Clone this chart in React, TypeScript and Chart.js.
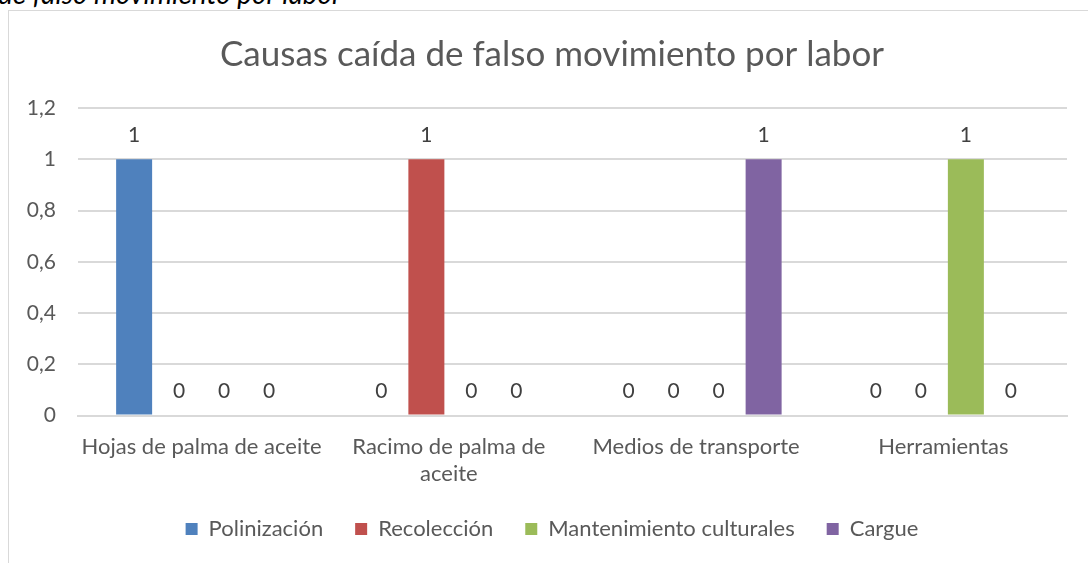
import React, { useEffect, useRef } from "react";
import { Chart, registerables } from "chart.js";

Chart.register(...registerables);

const chartTitle = "Causas caída de falso movimiento por labor";
const captionText = "de falso movimiento por labor";

const categories: (string | string[])[] = [
  "Hojas de palma de aceite",
  ["Racimo de palma de", "aceite"],
  "Medios de transporte",
  "Herramientas",
];

const seriesNames = ["Polinización", "Recolección", "Mantenimiento culturales", "Cargue"];
const polinizacion = [1, 0, 0, 0];
const recoleccion = [0, 1, 0, 0];
const mantenimiento = [0, 0, 0, 1];
const cargue = [0, 0, 1, 0];
const seriesColors = ["#4F81BD", "#C0504D", "#9BBB59", "#8064A2"];

const yTickLabels = ["0", "0,2", "0,4", "0,6", "0,8", "1", "1,2"];

const FONT = "Lato, 'Open Sans', sans-serif";
const FS = 21;
const FS_CAT = 22;
const LEGEND_PAD = 32;

const valueLabels = {
  id: "valueLabels",
  afterLayout(chart: any) {
    // let the y tick labels extend past the (narrow) axis box without clipping
    if (chart.scales.y) chart.scales.y.left = 0;
  },
  afterDatasetsDraw(chart: any) {
    const ctx = chart.ctx;
    ctx.save();
    ctx.font = `${FS}px ${FONT}`;
    ctx.fillStyle = "#404040";
    ctx.textAlign = "center";
    ctx.textBaseline = "middle";
    chart.data.datasets.forEach((ds: any, i: number) => {
      const meta = chart.getDatasetMeta(i);
      meta.data.forEach((el: any, j: number) => {
        const v = ds.data[j];
        ctx.fillText(String(v).replace(".", ","), el.x, el.y - 24);
      });
    });
    ctx.restore();
  },
};

export default function App() {
  const ref = useRef<HTMLCanvasElement | null>(null);

  useEffect(() => {
    document.body.style.overflow = "hidden";
    const seriesData = [polinizacion, recoleccion, mantenimiento, cargue];
    const chart = new Chart(ref.current as HTMLCanvasElement, {
      type: "bar",
      data: {
        labels: categories,
        datasets: seriesNames.map((name, i) => ({
          label: name,
          data: seriesData[i],
          backgroundColor: seriesColors[i],
          borderWidth: 0,
          categoryPercentage: 0.728,
          barPercentage: 0.8,
        })),
      },
      plugins: [valueLabels],
      options: {
        responsive: false,
        animation: false,
        devicePixelRatio: 1,
        layout: { padding: { left: 37, right: 21, top: 10, bottom: 13 } },
        plugins: {
          tooltip: { enabled: false },
          title: {
            display: true,
            text: chartTitle,
            color: "#595959",
            font: { family: FONT, size: 35, weight: "normal" },
            padding: { top: 24, bottom: 32 },
          },
          legend: {
            position: "bottom",
            labels: {
              boxWidth: 12,
              boxHeight: 12,
              color: "#595959",
              padding: LEGEND_PAD,
              font: { family: FONT, size: FS_CAT },
            },
          },
        },
        scales: {
          x: {
            grid: { display: false, drawTicks: false },
            border: { display: true, color: "#d9d9d9", width: 2 },
            ticks: {
              color: "#595959",
              padding: 18,
              maxRotation: 0,
              autoSkip: false,
              font: { family: FONT, size: FS_CAT, lineHeight: 1.227 },
            },
            afterFit: (s: any) => {
              s.height = 102.5 - LEGEND_PAD;
            },
          },
          y: {
            min: 0,
            max: 1.2,
            ticks: {
              stepSize: 0.2,
              color: "#595959",
              padding: 22,
              font: { family: FONT, size: FS },
              callback: (_v: any, idx: number) => yTickLabels[idx],
            },
            grid: { color: "#d9d9d9", lineWidth: 2, drawTicks: false },
            border: { display: false },
            afterFit: (s: any) => {
              s.width = 41;
            },
          },
        },
      },
    });
    return () => chart.destroy();
  }, []);

  return (
    <div
      style={{
        position: "fixed",
        left: 0,
        top: 0,
        width: 1088,
        height: 563,
        overflow: "hidden",
        background: "#fff",
      }}
    >
      <div
        style={{
          position: "absolute",
          left: -2,
          top: -24.5,
          fontFamily: FONT,
          fontStyle: "italic",
          fontSize: 28,
          lineHeight: "normal",
          color: "#000",
          whiteSpace: "nowrap",
        }}
      >
        {captionText}
      </div>
      <div
        style={{
          position: "absolute",
          left: 8,
          top: 10,
          width: 1200,
          height: 700,
          border: "1px solid #d9d9d9",
        }}
      />
      <canvas
        ref={ref}
        width={1088}
        height={563}
        style={{ position: "absolute", left: 0, top: 0, width: 1088, height: 563 }}
      />
    </div>
  );
}
